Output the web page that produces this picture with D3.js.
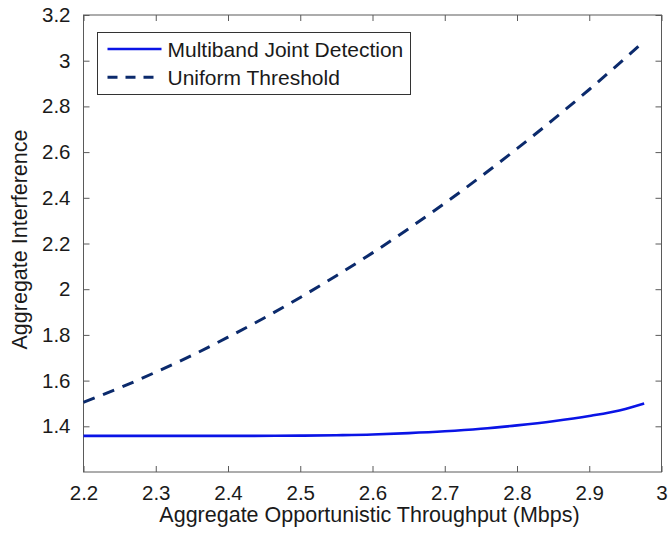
<!DOCTYPE html>
<html>
<head>
<meta charset="utf-8">
<script src="https://cdn.jsdelivr.net/npm/d3@7"></script>
<style>
    html, body { margin: 0; padding: 0; background: #fff; }
    svg { display: block; font-family: "Liberation Sans", Arial, Helvetica, sans-serif; }
</style>
</head>
<body>
<div id="chart"></div>
<script>
// Series
const seriesNames = ['Multiband Joint Detection', 'Uniform Threshold'];

const jointX = [2.2, 2.3, 2.4, 2.5, 2.55, 2.6, 2.65, 2.7, 2.75, 2.8, 2.85, 2.9, 2.95, 2.976];
const jointY = [1.358, 1.358, 1.358, 1.359, 1.361, 1.364, 1.370, 1.378, 1.389, 1.404, 1.422, 1.445, 1.476, 1.500];

const uniformX = [2.2, 2.25, 2.3, 2.35, 2.4, 2.45, 2.5, 2.55, 2.6, 2.65, 2.7, 2.75, 2.8, 2.85, 2.9, 2.95, 2.976];
const uniformY = [1.505, 1.568, 1.637, 1.710, 1.790, 1.874, 1.964, 2.059, 2.159, 2.265, 2.376, 2.493, 2.615, 2.742, 2.874, 3.012, 3.086];

const xTicks = [2.2, 2.3, 2.4, 2.5, 2.6, 2.7, 2.8, 2.9, 3];
const yTicks = [1.4, 1.6, 1.8, 2, 2.2, 2.4, 2.6, 2.8, 3, 3.2];
const xDomain = [2.2, 3];
const yDomain = [1.2, 3.2];

const xLabel = 'Aggregate Opportunistic Throughput (Mbps)';
const yLabel = 'Aggregate Interference';

const W = 668, H = 537;
const margin = { top: 15, right: 6.5, bottom: 65, left: 83.5 };
const width = W - margin.left - margin.right;
const height = H - margin.top - margin.bottom;

const axisColor = '#5a5a5a';
const solidColor = '#0a14e6';
const dashColor = '#0b2a6c';

const svg = d3.select('#chart')
    .append('svg')
    .attr('width', W)
    .attr('height', H);

const g = svg.append('g')
    .attr('transform', `translate(${margin.left},${margin.top})`);

const x = d3.scaleLinear().domain(xDomain).range([0, width]);
const y = d3.scaleLinear().domain(yDomain).range([height, 0]);

// Axes with inward ticks on all four sides (MATLAB box)
const styleAxis = sel => {
    sel.select('.domain').remove();
    sel.selectAll('.tick line').attr('stroke', axisColor);
    sel.selectAll('text')
        .attr('fill', '#1a1a1a')
        .style('font-size', '20.5px');
};

g.append('g')
    .attr('transform', `translate(0,${height})`)
    .call(d3.axisBottom(x).tickValues(xTicks).tickSize(-6).tickPadding(13).tickFormat(d => String(d)))
    .call(styleAxis);

g.append('g')
    .call(d3.axisTop(x).tickValues(xTicks).tickSize(-6).tickFormat(''))
    .call(styleAxis);

g.append('g')
    .call(d3.axisLeft(y).tickValues(yTicks).tickSize(-6).tickPadding(13).tickFormat(d => String(d)))
    .call(styleAxis);

g.append('g')
    .attr('transform', `translate(${width},0)`)
    .call(d3.axisRight(y).tickValues(yTicks).tickSize(-6).tickFormat(''))
    .call(styleAxis);

// Box
g.append('rect')
    .attr('width', width)
    .attr('height', height)
    .attr('fill', 'none')
    .attr('stroke', axisColor)
    .attr('stroke-width', 1);

// Lines
const line = d3.line()
    .x(d => x(d[0]))
    .y(d => y(d[1]))
    .curve(d3.curveMonotoneX);

g.append('path')
    .datum(uniformX.map((v, i) => [v, uniformY[i]]))
    .attr('fill', 'none')
    .attr('stroke', dashColor)
    .attr('stroke-width', 3)
    .attr('stroke-dasharray', '12,9')
    .attr('d', line);

g.append('path')
    .datum(jointX.map((v, i) => [v, jointY[i]]))
    .attr('fill', 'none')
    .attr('stroke', solidColor)
    .attr('stroke-width', 2.6)
    .attr('d', line);

// Axis labels
svg.append('text')
    .attr('x', margin.left + width / 2 - 3)
    .attr('y', 522)
    .attr('text-anchor', 'middle')
    .attr('fill', '#1a1a1a')
    .style('font-size', '21.5px')
    .text(xLabel);

svg.append('text')
    .attr('transform', `translate(27,${margin.top + height / 2 - 4}) rotate(-90)`)
    .attr('text-anchor', 'middle')
    .attr('fill', '#1a1a1a')
    .style('font-size', '21.5px')
    .text(yLabel);

// Legend
const legend = svg.append('g')
    .attr('transform', 'translate(97.5,32.5)');

legend.append('rect')
    .attr('width', 313)
    .attr('height', 62)
    .attr('fill', '#fff')
    .attr('stroke', '#333')
    .attr('stroke-width', 1);

const legendItems = [
    { name: seriesNames[0], color: solidColor, dash: null, width: 2.6 },
    { name: seriesNames[1], color: dashColor, dash: '10,8', width: 3 }
];

legendItems.forEach((item, i) => {
    const row = legend.append('g')
        .attr('transform', `translate(0,${16.5 + i * 28.3})`);

    row.append('line')
        .attr('x1', 10)
        .attr('x2', 64)
        .attr('stroke', item.color)
        .attr('stroke-width', item.width)
        .attr('stroke-dasharray', item.dash);

    row.append('text')
        .attr('x', 70)
        .attr('y', 7.5)
        .attr('fill', '#1a1a1a')
        .style('font-size', '21px')
        .text(item.name);
});
</script>
</body>
</html>
